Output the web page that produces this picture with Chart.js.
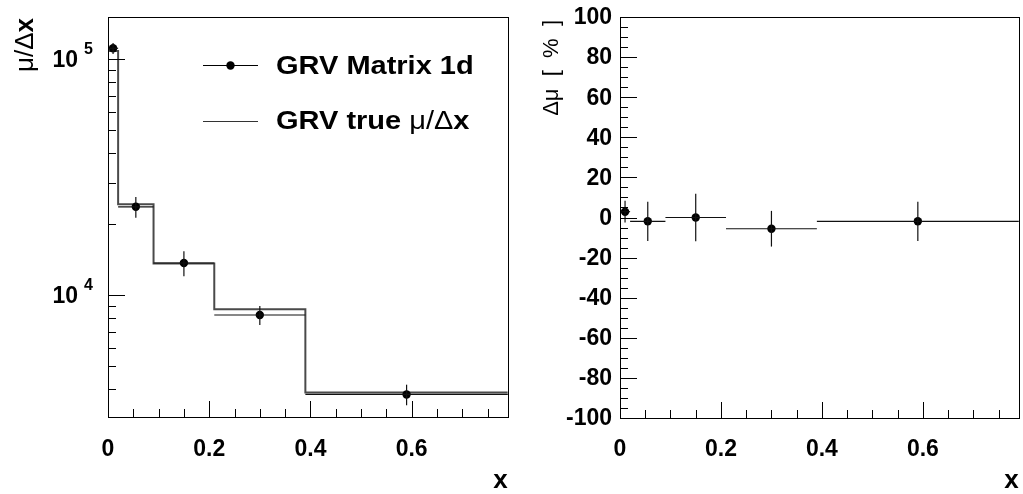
<!DOCTYPE html>
<html>
<head>
<meta charset="utf-8">
<script src="https://cdn.jsdelivr.net/npm/chart.js@4/dist/chart.umd.min.js"></script>
<style>
  html, body { margin: 0; padding: 0; background: #fff; }
  #wrap { position: relative; width: 1023px; height: 494px; overflow: hidden; }
  canvas { position: absolute; top: 0; }
</style>
</head>
<body>
<div id="wrap">
  <canvas id="left" width="512" height="494" style="left:0"></canvas>
  <canvas id="right" width="511" height="494" style="left:512px"></canvas>
</div>
<script>
// x binning of the unfolded distribution
const binEdges   = [0, 0.02, 0.09, 0.21, 0.39, 0.79];
const binCenters = [0.01, 0.055, 0.15, 0.30, 0.59];

// unfolded mu/dx (matrix method, 1d) with errors
const matrixMu  = [111300, 23700, 13700, 8250, 3800];
const matrixErr = [6000, 2400, 1650, 760, 380];

// true mu/dx from GRV
const trueMu = [108400, 24300, 13650, 8720, 3870];

// relative deviation in percent
const deltaMu  = [2.9, -1.9, 0.0, -5.6, -1.9];
const deltaErr = [5.4, 9.8, 11.8, 8.9, 9.8];

// axis tick labels
const xTickValues = [0, 0.2, 0.4, 0.6];
const xTickLabels = ['0', '0.2', '0.4', '0.6'];
const logDecades  = [4, 5];
const deltaTicks  = [100, 80, 60, 40, 20, 0, -20, -40, -60, -80, -100];

const FONT = "'Liberation Sans', Arial, Helvetica, sans-serif";
const bold = s => 'bold ' + s + 'px ' + FONT;
const norm = s => s + 'px ' + FONT;

function line(ctx, x1, y1, x2, y2) {
  ctx.beginPath(); ctx.moveTo(x1, y1); ctx.lineTo(x2, y2); ctx.stroke();
}

// draws consecutive text runs with their own fonts, optionally widened
function runs(ctx, parts, x, y, stretch) {
  const k = stretch || 1;
  ctx.save();
  ctx.translate(x, y);
  ctx.scale(k, 1);
  let cx = 0;
  for (const [t, f] of parts) {
    ctx.font = f;
    ctx.fillText(t, cx, 0);
    cx += ctx.measureText(t).width;
  }
  ctx.restore();
}

function drawFrame(ctx, a) {
  ctx.strokeStyle = '#000'; ctx.lineWidth = 1;
  ctx.strokeRect(Math.round(a.left) + 0.5, Math.round(a.top) + 0.5,
                 Math.round(a.right - a.left), Math.round(a.bottom - a.top));
}

function drawXAxis(ctx, chart) {
  const a = chart.chartArea, sx = chart.scales.x;
  ctx.strokeStyle = '#000'; ctx.lineWidth = 1;
  for (let v = 0.05; v < sx.max; v += 0.05) {
    const px = Math.round(sx.getPixelForValue(v)) + 0.5;
    const major = Math.abs(v / 0.2 - Math.round(v / 0.2)) < 1e-6;
    line(ctx, px, a.bottom, px, a.bottom - (major ? 16 : 8));
  }
  ctx.fillStyle = '#000';
  ctx.font = bold(23);
  ctx.textAlign = 'center'; ctx.textBaseline = 'middle';
  xTickValues.forEach((v, i) => {
    ctx.fillText(xTickLabels[i], sx.getPixelForValue(v), 450);
  });
  ctx.font = bold(26);
  ctx.textAlign = 'right'; ctx.textBaseline = 'middle';
  ctx.fillText('x', a.right, 481);
}

function drawErrors(ctx, chart, yVals, yErr) {
  const sx = chart.scales.x, sy = chart.scales.y;
  ctx.save();
  ctx.strokeStyle = '#111'; ctx.lineWidth = 1.2;
  for (let i = 0; i < yVals.length; i++) {
    const py = sy.getPixelForValue(yVals[i]);
    const x1 = sx.getPixelForValue(binEdges[i]);
    const x2 = sx.getPixelForValue(binEdges[i + 1]);
    line(ctx, x1, py, x2, py);
    const pc = sx.getPixelForValue(binCenters[i]);
    line(ctx, pc, sy.getPixelForValue(yVals[i] + yErr[i]),
              pc, sy.getPixelForValue(yVals[i] - yErr[i]));
  }
  ctx.restore();
}

// ---------- left panel: mu/dx on log scale ----------
const histPoints = binEdges.map((e, i) => ({ x: e, y: trueMu[Math.min(i, trueMu.length - 1)] }));
const matrixPoints = binCenters.map((c, i) => ({ x: c, y: matrixMu[i] }));

const leftPlugin = {
  id: 'leftPanel',
  afterDatasetsDraw(chart) {
    drawErrors(chart.ctx, chart, matrixMu, matrixErr);
  },
  afterDraw(chart) {
    const ctx = chart.ctx, a = chart.chartArea, sy = chart.scales.y;
    ctx.save();
    drawFrame(ctx, a);
    // log ticks on the left edge
    ctx.strokeStyle = '#000'; ctx.lineWidth = 1;
    for (let d = 3; d <= 5; d++) {
      for (let m = 1; m <= 9; m++) {
        const v = m * Math.pow(10, d);
        if (v < sy.min || v > sy.max) continue;
        const py = Math.round(sy.getPixelForValue(v)) + 0.5;
        line(ctx, a.left, py, a.left + (m === 1 ? 17 : 8), py);
      }
    }
    ctx.fillStyle = '#000';
    logDecades.forEach(d => {
      const py = sy.getPixelForValue(Math.pow(10, d));
      ctx.font = bold(23); ctx.textAlign = 'right'; ctx.textBaseline = 'middle';
      ctx.fillText('10', 78, py + 1);
      ctx.font = bold(16); ctx.textAlign = 'left';
      ctx.fillText(String(d), 84, py - 10);
    });
    drawXAxis(ctx, chart);
    // y title
    ctx.save();
    ctx.translate(26, 18);
    ctx.rotate(-Math.PI / 2);
    ctx.textAlign = 'left'; ctx.textBaseline = 'middle';
    const parts = [['μ/Δ', norm(26)], ['x', bold(26)]];
    let w = 0;
    parts.forEach(([t, f]) => { ctx.font = f; w += ctx.measureText(t).width; });
    runs(ctx, parts, -w, 0);
    ctx.restore();
    // legend
    ctx.strokeStyle = '#000'; ctx.lineWidth = 1;
    line(ctx, 203, 65.5, 258, 65.5);
    ctx.beginPath(); ctx.arc(230.5, 65.5, 4.2, 0, Math.PI * 2); ctx.fill();
    ctx.strokeStyle = '#333';
    line(ctx, 203, 121.5, 258, 121.5);
    ctx.textAlign = 'left'; ctx.textBaseline = 'middle';
    runs(ctx, [['GRV Matrix 1d', bold(25)]], 276, 67, 1.16);
    runs(ctx, [['GRV true ', bold(25)], ['μ/Δ', norm(25)], ['x', bold(25)]], 276, 122, 1.16);
    ctx.restore();
  }
};

new Chart(document.getElementById('left'), {
  type: 'line',
  data: {
    datasets: [
      { label: 'GRV Matrix 1d', data: matrixPoints, showLine: false,
        pointRadius: 4.2, pointBackgroundColor: '#000', pointBorderColor: '#000', pointBorderWidth: 0 },
      { label: 'GRV true μ/Δx', data: histPoints, stepped: true,
        borderColor: '#4a4a4a', borderWidth: 2, pointRadius: 0, fill: false }
    ]
  },
  options: {
    responsive: false, animation: false,
    layout: { padding: { left: 108, right: 3, top: 17, bottom: 77 } },
    scales: {
      x: { type: 'linear', min: 0, max: 0.79, display: false },
      y: { type: 'logarithmic', min: 3050, max: 151000, display: false }
    },
    plugins: { legend: { display: false }, tooltip: { enabled: false } }
  },
  plugins: [leftPlugin]
});

// ---------- right panel: deviation in percent ----------
const deltaPoints = binCenters.map((c, i) => ({ x: c, y: deltaMu[i] }));

const rightPlugin = {
  id: 'rightPanel',
  afterDatasetsDraw(chart) {
    drawErrors(chart.ctx, chart, deltaMu, deltaErr);
  },
  afterDraw(chart) {
    const ctx = chart.ctx, a = chart.chartArea, sy = chart.scales.y;
    ctx.save();
    drawFrame(ctx, a);
    ctx.strokeStyle = '#000'; ctx.lineWidth = 1;
    for (let v = -95; v < 100; v += 5) {
      const py = Math.round(sy.getPixelForValue(v)) + 0.5;
      line(ctx, a.left, py, a.left + (v % 20 === 0 ? 17 : 8), py);
    }
    ctx.fillStyle = '#000';
    ctx.font = bold(23); ctx.textAlign = 'right'; ctx.textBaseline = 'middle';
    deltaTicks.forEach(v => ctx.fillText(String(v), 100, sy.getPixelForValue(v) + 1));
    drawXAxis(ctx, chart);
    ctx.save();
    ctx.translate(40, 20);
    ctx.rotate(-Math.PI / 2);
    ctx.font = norm(22); ctx.textAlign = 'right'; ctx.textBaseline = 'middle';
    ctx.fillText('Δμ  [  %  ]', 0, 0);
    ctx.restore();
    ctx.restore();
  }
};

new Chart(document.getElementById('right'), {
  type: 'scatter',
  data: {
    datasets: [
      { label: 'Δμ', data: deltaPoints, showLine: false,
        pointRadius: 4.2, pointBackgroundColor: '#000', pointBorderColor: '#000', pointBorderWidth: 0 }
    ]
  },
  options: {
    responsive: false, animation: false,
    layout: { padding: { left: 108, right: 3, top: 17, bottom: 76 } },
    scales: {
      x: { type: 'linear', min: 0, max: 0.79, display: false },
      y: { type: 'linear', min: -100, max: 100, display: false }
    },
    plugins: { legend: { display: false }, tooltip: { enabled: false } }
  },
  plugins: [rightPlugin]
});
</script>
</body>
</html>
